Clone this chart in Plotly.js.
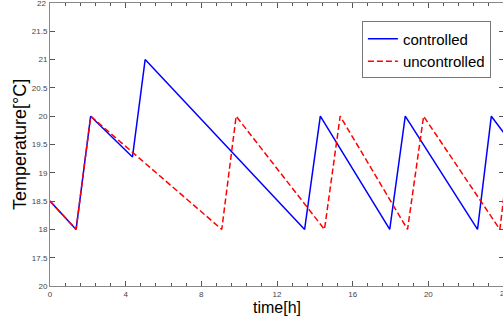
<!DOCTYPE html>
<html>
<head>
<meta charset="utf-8">
<script src="https://cdn.plot.ly/plotly-3.0.1.min.js"></script>
<style>
html,body{margin:0;padding:0;overflow:hidden;background:#fff;}
#chart{width:506px;height:324px;}
</style>
</head>
<body>
<div id="chart"></div>
<script>
const timeControlled = [0, 1.38, 2.15, 4.36, 5.03, 13.46, 14.29, 17.96, 18.78, 22.6, 23.33, 24];
const tempControlled = [18.5, 18, 20, 19.28, 21, 18, 20, 18, 20, 18, 20, 19.7];
const timeUncontrolled = [0, 1.38, 2.15, 9.08, 9.84, 14.51, 15.34, 18.9, 19.75, 23.78, 24];
const tempUncontrolled = [18.5, 18, 20, 18, 20, 18, 20, 18, 20, 18, 18.6];
const yTickVals = [17, 17.5, 18, 18.5, 19, 19.5, 20, 20.5, 21, 21.5, 22];
const yTickText = ['20', '17.5', '18', '18.5', '19', '19.5', '20', '20.5', '21', '21.5', '22'];
const xTickVals = [0, 4, 8, 12, 16, 20, 24];
const xTickText = ['0', '4', '8', '12', '16', '20', '24'];

const traces = [
  {x: timeControlled, y: tempControlled, name: 'controlled', mode: 'lines',
   line: {color: '#0000ff', width: 1.5}},
  {x: timeUncontrolled, y: tempUncontrolled, name: 'uncontrolled', mode: 'lines',
   line: {color: '#ff0000', width: 1.5, dash: '6px,3px'}}
];

const tickFont = {size: 8, color: '#444', family: 'Liberation Sans, Arial, sans-serif'};

const layout = {
  width: 506, height: 324,
  margin: {l: 50, r: 2, t: 3, b: 38},
  paper_bgcolor: '#fff', plot_bgcolor: '#fff',
  font: {family: 'Liberation Sans, Arial, sans-serif', color: '#000'},
  xaxis: {
    range: [0, 24], showgrid: false, zeroline: false,
    showline: true, linecolor: '#888', linewidth: 1, mirror: 'ticks',
    ticks: 'inside', ticklen: 5, tickcolor: '#555', tickwidth: 1,
    tickmode: 'array', tickvals: xTickVals, ticktext: xTickText,
    tickfont: tickFont,
    minor: {dtick: 0.8, tick0: 0, ticks: 'inside', ticklen: 3, tickcolor: '#555', showgrid: false},
    title: {text: 'time[h]', font: {size: 16, color: '#000'}, standoff: 4}
  },
  yaxis: {
    range: [17, 22], showgrid: false, zeroline: false,
    showline: true, linecolor: '#888', linewidth: 1, mirror: 'ticks',
    ticks: 'inside', ticklen: 5, tickcolor: '#555', tickwidth: 1,
    tickmode: 'array', tickvals: yTickVals, ticktext: yTickText,
    tickfont: tickFont,
    title: {text: 'Temperature[°C]', font: {size: 18, color: '#000'}, standoff: 0}
  },
  annotations: [
    {xref: 'paper', yref: 'y', x: 0, y: yTickVals[yTickVals.length - 1], text: yTickText[yTickText.length - 1],
     xanchor: 'right', yanchor: 'middle', xshift: -2, showarrow: false, font: tickFont},
    {xref: 'x', yref: 'paper', x: xTickVals[xTickVals.length - 1], y: 0, text: xTickText[xTickText.length - 1],
     xanchor: 'center', yanchor: 'top', yshift: -1, showarrow: false, font: tickFont}
  ],
  legend: {
    x: 0.687, y: 0.935, xanchor: 'left', yanchor: 'top',
    bgcolor: '#fff', bordercolor: '#777', borderwidth: 1,
    font: {size: 15, color: '#000'}, tracegroupgap: 0, itemwidth: 30
  },
  showlegend: true
};

Plotly.newPlot('chart', traces, layout, {displayModeBar: false, staticPlot: true});
</script>
</body>
</html>
